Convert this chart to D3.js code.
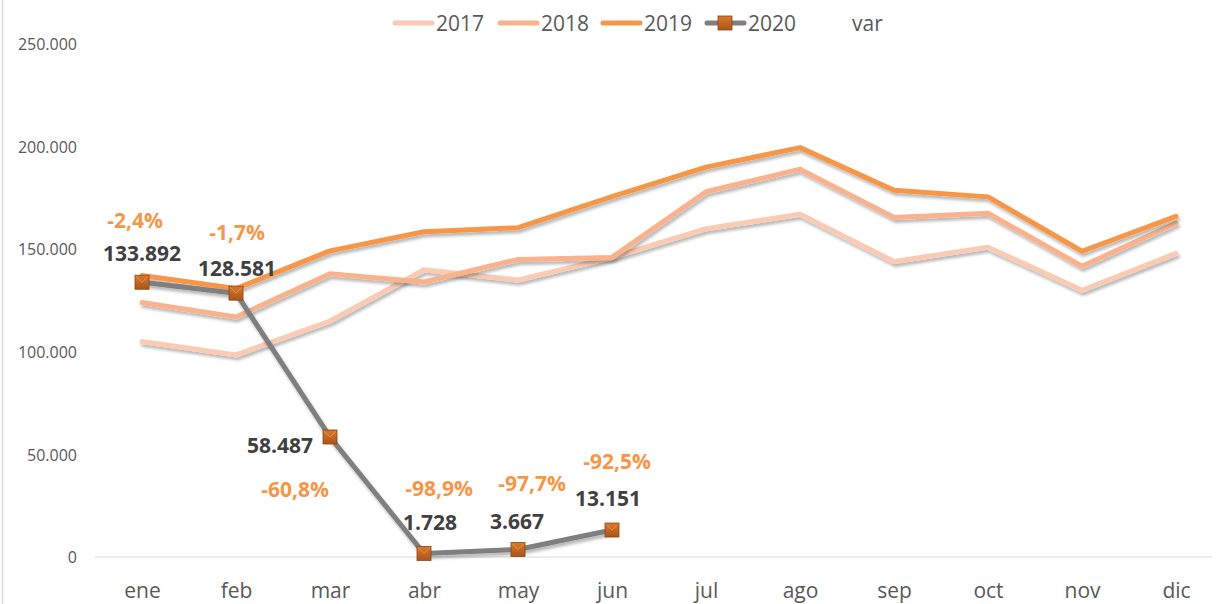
<!DOCTYPE html>
<html><head><meta charset="utf-8">
<script src="https://cdn.jsdelivr.net/npm/d3@7"></script>
<style>body{margin:0;background:#fff}text{font-family:"Open Sans",Lato,sans-serif}</style>
</head><body><svg id="c" width="1218" height="604"></svg>
<script>
const months = ["ene","feb","mar","abr","may","jun","jul","ago","sep","oct","nov","dic"];
const v2017 = [105000,98500,115000,140000,135000,146000,160000,167000,144000,151000,130000,148000];
const v2018 = [124000,117000,138000,134000,145000,146000,178000,189000,165500,167500,141700,162600];
const v2019 = [137200,130800,149200,158500,160500,175600,190000,199500,178700,175500,149000,166000];
const v2020 = [133892,128581,58487,1728,3667,13151];
const varPct = [-2.4,-1.7,-60.8,-98.9,-97.7,-92.5];
const yTicks = [0,50000,100000,150000,200000,250000];

const svg = d3.select("#c");
const W=1218,H=604;
const x = d3.scalePoint().domain(months).range([142,1176]);
const y = d3.scaleLinear().domain([0,250000]).range([557,44]);
const fmt = v => d3.format(",")(v).replace(/,/g,".");

const defs = svg.append("defs");
const f = defs.append("filter").attr("id","sh").attr("x","-5%").attr("y","-20%").attr("width","110%").attr("height","140%");
f.append("feDropShadow").attr("dx",1.5).attr("dy",3).attr("stdDeviation",1.8).attr("flood-color","#000").attr("flood-opacity",0.28);
const g = defs.append("linearGradient").attr("id","mk").attr("x1",0).attr("y1",0).attr("x2",0).attr("y2",1);
g.append("stop").attr("offset","0%").attr("stop-color","#d9782c");
g.append("stop").attr("offset","100%").attr("stop-color","#a9561a");

svg.append("line").attr("x1",2.5).attr("x2",2.5).attr("y1",0).attr("y2",H).attr("stroke","#d9d9d9").attr("stroke-width",1.5);

const yAxis = d3.axisLeft(y).tickValues(yTicks).tickSize(0).tickPadding(0).tickFormat(fmt);
const ya = svg.append("g").attr("transform","translate(77,0)").call(yAxis);
ya.select(".domain").remove();
ya.selectAll("text").attr("font-size",16).attr("fill","#595959").attr("font-family","'Open Sans',sans-serif").attr("dy","0.35em");

svg.append("line").attr("x1",95).attr("x2",1212).attr("y1",y(0)).attr("y2",y(0)).attr("stroke","#d9d9d9").attr("stroke-width",1.2);

const xAxis = d3.axisBottom(x).tickSize(0).tickPadding(0);
const xa = svg.append("g").attr("transform","translate(0,582)").call(xAxis);
xa.select(".domain").remove();
xa.selectAll("text").attr("font-size",21).attr("fill","#595959").attr("font-family","'Open Sans',sans-serif").attr("dy","0.75em");

const line = d3.line().x((d,i)=>x(months[i])).y(d=>y(d));
const series = [
  {name:"2017",data:v2017,color:"#fbcab2"},
  {name:"2018",data:v2018,color:"#f9b28b"},
  {name:"2019",data:v2019,color:"#f79646"},
  {name:"2020",data:v2020,color:"#7f7f7f"}
];
series.forEach(s=>{
  svg.append("path").datum(s.data).attr("d",line).attr("fill","none")
    .attr("stroke",s.color).attr("stroke-width",5).attr("stroke-linejoin","round").attr("stroke-linecap","round")
    .attr("filter","url(#sh)");
});
function marker(sel,cx,cy,fancy){
  sel.append("rect").attr("x",cx-7).attr("y",cy-7).attr("width",14).attr("height",14)
    .attr("fill","url(#mk)").attr("stroke","#8a4512").attr("stroke-width",0.8);
  if(fancy) sel.append("path").attr("d",`M${cx-6},${cy-6}L${cx},${cy}L${cx+6},${cy-6}`).attr("fill","none").attr("stroke","#f0a060").attr("stroke-width",1).attr("opacity",0.7);
}
v2020.forEach((v,i)=>marker(svg,x(months[i]),y(v),true));

const valOff = [[0,-29],[1,-25],[-50,9],[6,-31],[-1,-28],[-4,-31]];
v2020.forEach((v,i)=>{
  svg.append("text").attr("x",x(months[i])+valOff[i][0]).attr("y",y(v)+valOff[i][1]).attr("text-anchor","middle")
   .attr("dy","0.35em").attr("font-size",21).attr("font-weight","bold").attr("fill","#404040").text(fmt(v));
});
const varOff = [[-7,-62],[1,-61],[-35,53],[15,-65],[14,-66],[5,-68]];
varPct.forEach((p,i)=>{
  svg.append("text").attr("x",x(months[i])+varOff[i][0]).attr("y",y(v2020[i])+varOff[i][1]).attr("text-anchor","middle")
   .attr("dy","0.35em").attr("font-size",21).attr("font-weight","bold").attr("fill","#f79646")
   .text(d3.format(".1f")(p).replace("\u2212","-").replace(".",",")+"%");
});

const leg = [
  {name:"2017",color:"#fbcab2",x0:393},
  {name:"2018",color:"#f9b28b",x0:498},
  {name:"2019",color:"#f79646",x0:601},
  {name:"2020",color:"#7f7f7f",x0:705,mk:true}
];
leg.forEach(l=>{
  svg.append("line").attr("x1",l.x0+2).attr("x2",l.x0+39).attr("y1",23).attr("y2",23).attr("stroke",l.color).attr("stroke-width",5).attr("stroke-linecap","round");
  if(l.mk) marker(svg,l.x0+20,23,false);
  svg.append("text").attr("x",l.x0+43).attr("y",23).attr("dy","0.36em").attr("font-size",21).attr("fill","#595959").text(l.name);
});
svg.append("text").attr("x",852).attr("y",23).attr("dy","0.36em").attr("font-size",21).attr("fill","#595959").text("var");
</script></body></html>
